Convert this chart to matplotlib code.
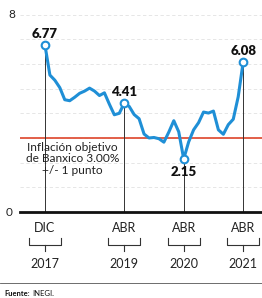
import matplotlib
matplotlib.use("Agg")
import matplotlib.pyplot as plt
from matplotlib.lines import Line2D
from matplotlib.transforms import blended_transform_factory

# Inflación anual, dic 2017 - abr 2021 (índice 0 = DIC 2017)
inflacion = [6.77,
             5.55, 5.34, 5.04, 4.55, 4.51, 4.65, 4.81, 4.90, 5.02, 4.90, 4.72, 4.83,
             4.37, 3.94, 4.00, 4.41, 4.28, 3.95, 3.78, 3.16, 3.00, 3.02, 2.97, 2.83,
             3.24, 3.70, 3.25, 2.15, 2.84, 3.33, 3.62, 4.05, 4.01, 4.09, 3.33, 3.15,
             3.54, 3.76, 4.67, 6.08]
meses = list(range(len(inflacion)))

# puntos destacados
destacados = [0, 16, 28, 40]
etiquetas_mes = ['DIC', 'ABR', 'ABR', 'ABR']
etiquetas_anio = ['2017', '2019', '2020', '2021']
objetivo = 3.0

azul = '#1f8fd6'
rojo = '#e0533a'
plt.rcParams['font.family'] = ['Lato', 'DejaVu Sans']

fig = plt.figure(figsize=(2.62, 2.98), dpi=100)
ax = fig.add_axes([0.076, 0.2886, 0.924, 0.6624])
ax.set_xlim(-5.05, 43.8)
ax.set_ylim(0, 8)

# guías
for v in range(1, 9):
    ax.axhline(v, color='#e2e2e2', lw=0.6, ls=(0, (4, 3)), zorder=0)
ax.axhline(objetivo, color=rojo, lw=1.3, zorder=1)

# líneas verticales a los puntos destacados
for i in destacados:
    ax.plot([i, i], [0, inflacion[i]], color='#333333', lw=0.7, zorder=2)

ax.plot(meses, inflacion, color=azul, lw=2.2, zorder=3, solid_joinstyle='round')
ax.plot([meses[i] for i in destacados], [inflacion[i] for i in destacados],
        'o', ms=5.5, mfc='white', mec=azul, mew=1.5, zorder=4)

# etiquetas de valor
offsets = {0: 0.22, 16: 0.22, 28: -0.3, 40: 0.22}
for i in destacados:
    off = offsets[i]
    ax.text(meses[i], inflacion[i] + off, f'{inflacion[i]:.2f}',
            ha='center', va='bottom' if off > 0 else 'top',
            fontsize=9.5, fontweight='heavy', color='#111111', zorder=5)

ax.text(5.5, 3.0 - 0.15, 'Inflación objetivo\nde Banxico 3.00%\n+/- 1 punto',
        ha='center', va='top', fontsize=8.6, color='#222222',
        linespacing=1.05, zorder=5)

for s in ['top', 'right', 'left']:
    ax.spines[s].set_visible(False)
ax.spines['bottom'].set_linewidth(2)
ax.spines['bottom'].set_color('#111111')
ax.set_xticks([])
ax.set_yticks([])

# ejes y
fig.text(12 / 262, 1 - 14 / 298, '8', ha='center', va='center', fontsize=8.5, color='#222222')
fig.text(9 / 262, 1 - 212 / 298, '0', ha='center', va='center', fontsize=8.5, color='#222222')

# etiquetas de fecha con corchetes
trans = blended_transform_factory(ax.transData, fig.transFigure)
for i, m, a in zip(destacados, etiquetas_mes, etiquetas_anio):
    x = meses[i]
    ax.text(x, 1 - 228 / 298, m, transform=trans, ha='center', va='center',
            fontsize=9, color='#222222')
    ax.text(x, 1 - 264 / 298, a, transform=trans, ha='center', va='center',
            fontsize=9, color='#222222')
    yb = 1 - 245 / 298
    h = 7 / 298
    w = 3.2
    ax.plot([x - w, x - w, x + w, x + w], [yb + h, yb, yb, yb + h],
            transform=trans, color='#333333', lw=0.8, clip_on=False)
    ax.plot([x, x], [yb, yb - 6 / 298], transform=trans, color='#333333', lw=0.8, clip_on=False)

fig.add_artist(Line2D([0, 1], [1 - 283 / 298, 1 - 283 / 298], color='#555555', lw=0.6))
fig.text(4 / 262, 1 - 293 / 298, 'Fuente:', ha='left', va='center',
         fontsize=5.5, fontweight='bold', color='#111111')
fig.text(32 / 262, 1 - 293 / 298, 'INEGI.', ha='left', va='center',
         fontsize=5.5, color='#111111')

fig.savefig('out.png', dpi=100)
